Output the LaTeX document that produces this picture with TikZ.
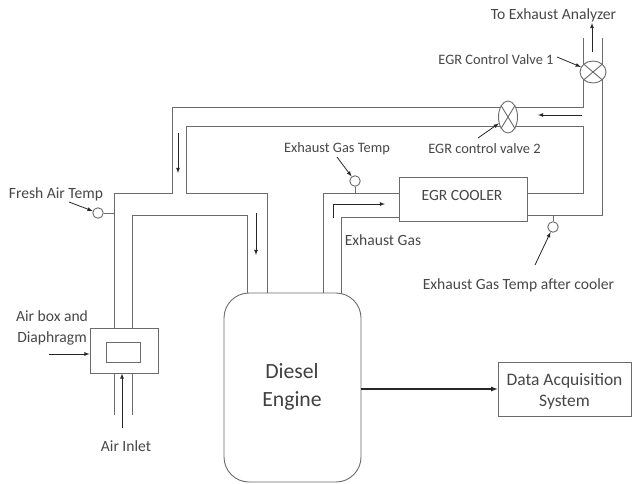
\documentclass[tikz,border=0pt]{standalone}
\usepackage{fontspec}
\setmainfont{Carlito}
\usetikzlibrary{shapes.geometric}
\definecolor{pipegray}{gray}{0.42}
\definecolor{labgray}{gray}{0.28}
\tikzset{
  pipe/.style={draw=pipegray,line width=0.9pt},
  flow/.style={->,draw=black!85,line width=0.8pt},
  boxnode/.style={draw=pipegray,line width=0.9pt,fill=white,align=center,text=labgray},
  sensor/.style={circle,draw=pipegray,line width=0.9pt,fill=white,minimum size=10.5pt,inner sep=0pt},
  valve/.style={ellipse,draw=pipegray,line width=0.9pt,fill=white,inner sep=0pt},
  lab/.style={text=labgray,inner sep=0pt,font=\fontsize{15.6}{21}\selectfont,align=center},
  smalllab/.style={lab,font=\fontsize{14.4}{21}\selectfont}
}
\begin{document}
\begin{tikzpicture}[x=1pt,y=-1pt,>=latex]
  \useasboundingbox (0,0) rectangle (632,483);
  \node[boxnode,rounded corners=25pt,minimum width=137pt,minimum height=189pt] (engine) at (292.5,387.5) {};
  \node[boxnode,minimum width=128pt,minimum height=44pt] (cooler) at (463,199) {};
  \node[boxnode,minimum width=68pt,minimum height=45pt] (airbox) at (124,350.5) {};
  \node[boxnode,minimum width=34pt,minimum height=20pt] (airwin) at (123,352) {};
  \node[boxnode,minimum width=133pt,minimum height=54pt] (daq) at (564.5,389) {};
  \node[lab,font=\fontsize{17.5}{21}\selectfont] (daqlab) at (564.5,391) {Data Acquisition\\System};
  \node[lab] at (462,195) (coolerlab) {EGR COOLER};
  \node[lab,text=black!75,font=\fontsize{21.7}{28}\selectfont] (enginelab) at (292,386.5) {Diesel\\Engine};

  \coordinate (a1) at (583,38);
  \coordinate (a2) at (583,107);
  \coordinate (a3) at (172,107);
  \coordinate (a4) at (172,193);
  \coordinate (a5) at (114,193);
  \coordinate (b1) at (602,38);
  \coordinate (b2) at (602,215);
  \coordinate (c1) at (583,126);
  \coordinate (c2) at (583,193);
  \coordinate (c3) at (186,126);
  \coordinate (c4) at (186,193);
  \coordinate (c5) at (267,193);
  \coordinate (d1) at (132,215);
  \coordinate (d2) at (247,215);
  \coordinate (e1) at (323,193);
  \coordinate (f1) at (341,217);
  \coordinate (g1) at (114,415);
  \coordinate (g2) at (132,415);
  \draw[pipe] (a1) -- (a2) -- (a3) -- (a4) -- (a5) -- (a5 |- airbox.north);
  \draw[pipe] (b1) -- (b2) -- (b2 -| cooler.east);
  \draw[pipe] (c3) -- (c1) -- (c2) -- (c2 -| cooler.east);
  \draw[pipe] (c3) -- (c4) -- (c5) -- (c5 |- engine.north);
  \draw[pipe] (d1 |- airbox.north) -- (d1) -- (d2) -- (d2 |- engine.north);
  \draw[pipe] (e1 -| cooler.west) -- (e1) -- (e1 |- engine.north);
  \draw[pipe] (f1 -| cooler.west) -- (f1) -- (f1 |- engine.north);
  \draw[pipe] (g1 |- airbox.south) -- (g1);
  \draw[pipe] (g2 |- airbox.south) -- (g2);

  \node[valve,minimum width=26pt,minimum height=22pt] (vone) at (593,72) {};
  \draw[pipe] (vone.north west) -- (vone.south east);
  \draw[pipe] (vone.north east) -- (vone.south west);
  \node[valve,minimum width=19pt,minimum height=32pt] (vtwo) at (508,117) {};
  \draw[pipe] (vtwo.north west) -- (vtwo.south east);
  \draw[pipe] (vtwo.north east) -- (vtwo.south west);

  \node[sensor] (sfresh) at (98,213) {};
  \draw[pipe] (sfresh) -- (sfresh -| a5);
  \node[sensor] (sgas) at (355,181) {};
  \draw[pipe] (sgas) -- (sgas |- e1);
  \node[sensor] (scool) at (553,227) {};
  \draw[pipe] (scool) -- (scool |- b2);

  \node[lab] (ltop) at (553.5,15) {To Exhaust Analyzer};
  \node[smalllab] (lvone) at (496,60) {EGR Control Valve 1};
  \node[smalllab] (lvtwo) at (484.5,149) {EGR control valve 2};
  \node[smalllab] (lgas) at (337,149) {Exhaust Gas Temp};
  \node[lab] (lfresh) at (56,194) {Fresh Air Temp};
  \node[lab] (lexh) at (383,240) {Exhaust Gas};
  \node[lab] (lcool) at (518.5,285) {Exhaust Gas Temp after cooler};
  \node[lab] (lbox) at (52,327.5) {Air box and\\Diaphragm};
  \node[lab] (linlet) at (126,446) {Air Inlet};

  \coordinate (p1) at (592,52);
  \coordinate (p2) at (592,23);
  \coordinate (p3) at (557,57);
  \coordinate (p4) at (582,115);
  \coordinate (p5) at (538,115);
  \coordinate (p6) at (478,138);
  \coordinate (p7) at (337,157);
  \coordinate (p8) at (333,218);
  \coordinate (p9) at (333,204);
  \coordinate (p10) at (385,204);
  \coordinate (p11) at (535,265);
  \coordinate (p12) at (178,133);
  \coordinate (p13) at (178,173);
  \coordinate (p14) at (256,213);
  \coordinate (p15) at (256,255);
  \coordinate (p16) at (69,202);
  \coordinate (p17) at (49,354);
  \coordinate (p18) at (122,428);
  \draw[flow] (p1) -- (p2);
  \draw[flow] (p3) -- (vone);
  \draw[flow] (p4) -- (p5);
  \draw[flow] (p6) -- (vtwo);
  \draw[flow] (p7) -- (sgas);
  \draw[flow] (p8) -- (p9) -- (p10);
  \draw[flow] (p11) -- (scool);
  \draw[flow] (p12) -- (p13);
  \draw[flow] (p14) -- (p15);
  \draw[flow] (p16) -- (sfresh);
  \draw[flow] (p17) -- (p17 -| airbox.west);
  \draw[flow] (p18) -- (p18 |- airbox.south);
  \draw[flow,line width=1.2pt] (engine.east |- daq.west) -- (daq.west);
\end{tikzpicture}
\end{document}
